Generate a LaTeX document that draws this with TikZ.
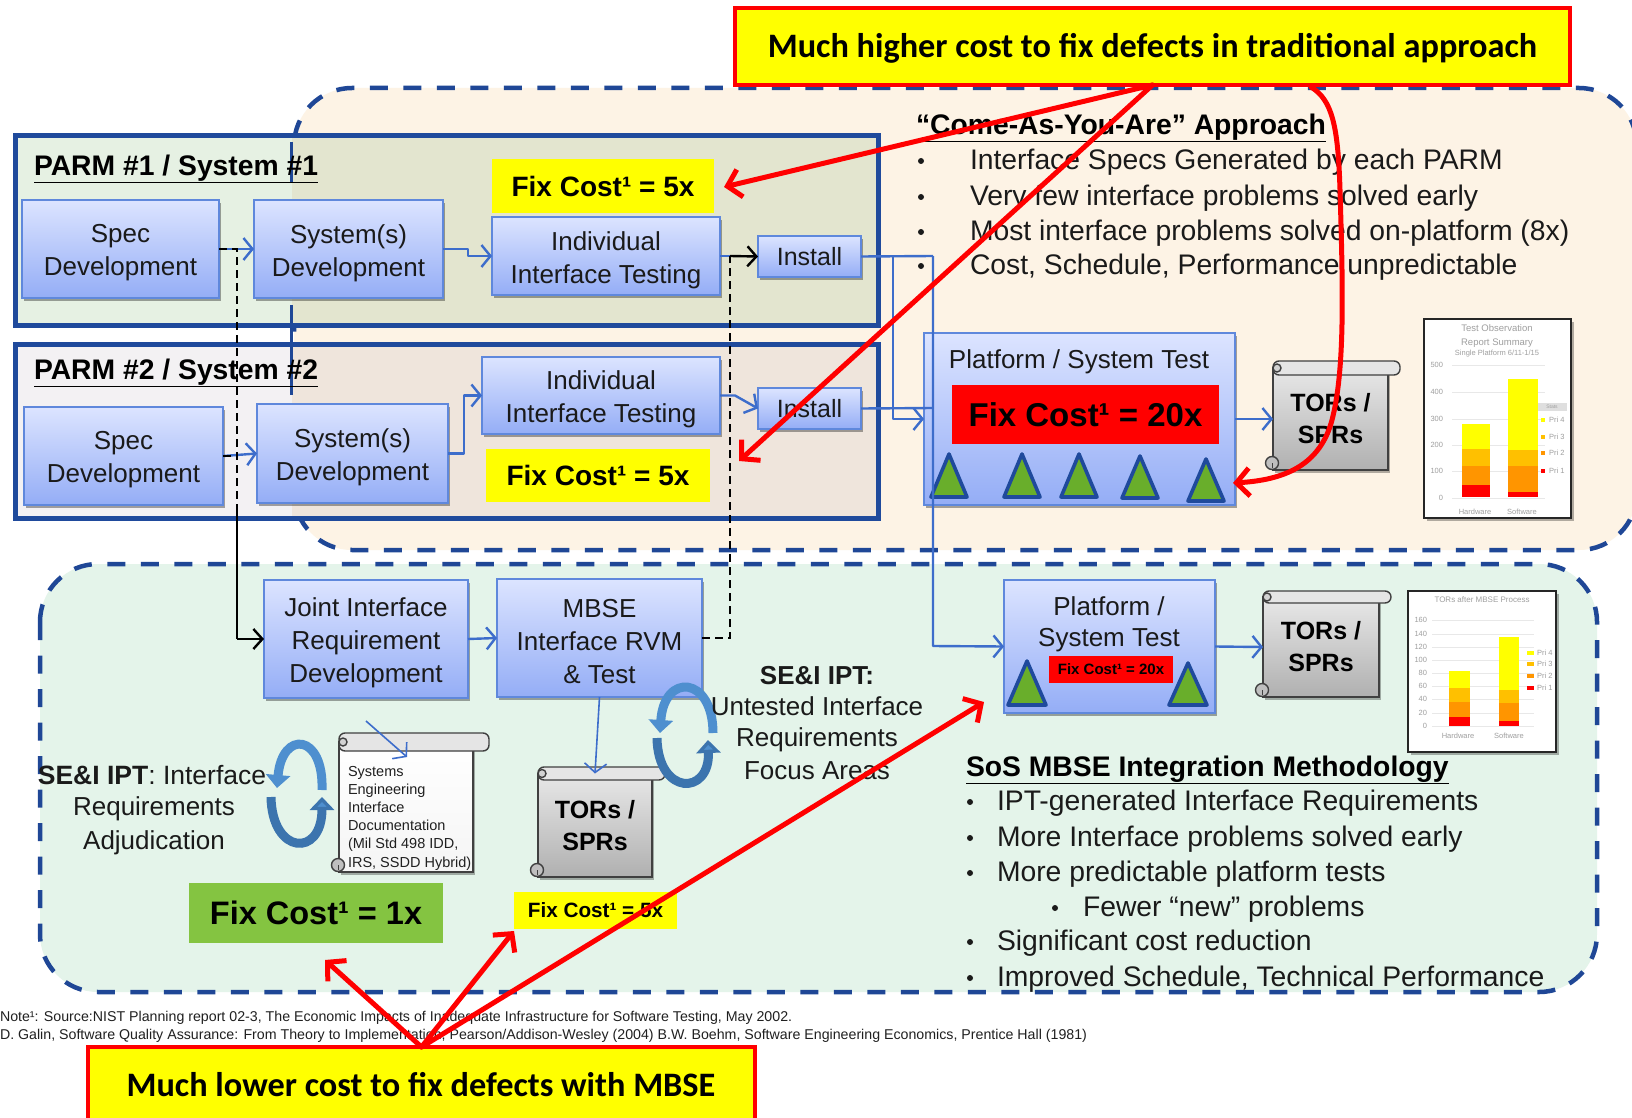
\documentclass[tikz,border=0pt]{standalone}
\usepackage{fontspec}
\setmainfont{Liberation Sans}
\newfontfamily\carl{Carlito}
\usetikzlibrary{arrows.meta,shadows,calc}
\definecolor{dashblue}{HTML}{1F4796}
\definecolor{parmblue}{HTML}{1F4A9C}
\definecolor{linkblue}{HTML}{3D6DCB}
\definecolor{boxedge}{HTML}{5F88DC}
\definecolor{boxtop}{HTML}{DCE4FF}
\definecolor{boxbot}{HTML}{94ADF6}
\definecolor{beige}{HTML}{FDF3E5}
\definecolor{mint}{HTML}{E4F4EA}
\definecolor{trigreen}{HTML}{69AE2B}
\definecolor{fixgreen}{HTML}{84C441}
\definecolor{cyc}{HTML}{4E8FCF}
\definecolor{cycdark}{HTML}{3C74AE}
\definecolor{txt}{HTML}{1A1A1A}
\definecolor{amberA}{HTML}{FFC000}
\definecolor{amberB}{HTML}{FF9500}
\definecolor{hiyellow}{RGB}{255,255,0}
\definecolor{pureRed}{RGB}{255,0,0}
\definecolor{parmAl}{RGB}{230,241,227}
\definecolor{parmAr}{RGB}{227,229,207}
\definecolor{parmBl}{RGB}{243,241,243}
\definecolor{parmBr}{RGB}{239,229,220}
\newcommand\fz[2]{\fontsize{#1}{#2}\selectfont}
\newcommand\dn[1]{\raisebox{-4pt}[\height][\depth]{#1}}
% placed box by its corners: name, x1, y1, x2, y2, style, text
\newcommand\placebox[7]{%
  \pgfmathsetmacro\bw{#4-(#2)}\pgfmathsetmacro\bh{#5-(#3)}%
  \pgfmathsetmacro\bx{(#2+#4)/2}\pgfmathsetmacro\by{(#3+#5)/2}%
  \node[#6,minimum width=\bw pt,minimum height=\bh pt] (#1) at (\bx,\by) {#7};}
\newcommand\tri[4]{% cx, apex, base, halfwidth
  \draw[tristyle] (#1,#2) -- (#1+#4,#3) -- (#1-#4,#3) -- cycle;}
% scroll: name,x1,ytop,x2,ybot,xend,rollheight,textstyle,text
\newcommand\scrollbox[9]{%
  \pgfmathsetmacro\sy{#3+#7/2}%
  \placebox{#1}{#2}{\sy}{#4}{#5}{scrollbody,#8}{#9}
  \draw[scrolledge,fill=gray!20,rounded corners=6pt] (#2,#3) rectangle (#6,#3+#7);
  \draw[scrolledge,fill=gray!35] (#2+4,#3+#7/2) circle (4);
  \draw[scrolledge,fill=gray!50] (#2-1,#5-7) circle (6.5);
  \draw[scrolledge,line width=.8] (#2-1,#5-7) -- (#2-1,#5-2);}
\tikzset{
  x=1pt,y=-1pt,
  region/.style={draw=dashblue,line width=4.5,dash pattern=on 18pt off 15.5pt,rounded corners=58pt},
  parm/.style={draw=parmblue,line width=5},
  blockbox/.style={draw=boxedge,line width=1.3,top color=boxtop,bottom color=boxbot,inner sep=0,outer sep=0,
     text=txt,align=center,font=\fz{26}{33},
     drop shadow={shadow xshift=2pt,shadow yshift=-3pt,fill=black,opacity=.35}},
  fixbox/.style={inner sep=0,outer sep=0,text=black,font=\bfseries\fz{28}{30}},
  tristyle/.style={draw=parmblue,fill=trigreen,line width=3.6,line join=round},
  scrollbody/.style={draw=gray!50!black,line width=1.4,top color=gray!18,bottom color=gray!62,inner sep=0,outer sep=0,
     text=black,align=center,font=\bfseries\fz{25}{32},
     drop shadow={shadow xshift=2pt,shadow yshift=-3pt,fill=black,opacity=.3}},
  scrolledge/.style={draw=gray!50!black,line width=1.4},
  chartbox/.style={draw=gray!30!black,line width=1.6,fill=white,inner sep=0,outer sep=0,
     drop shadow={shadow xshift=3pt,shadow yshift=-3pt,fill=black,opacity=.3}},
  link/.style={draw=linkblue,line width=2.4,line join=round},
  linkarr/.style={link,-{Straight Barb[length=9pt,width=22pt]}},
  blackdash/.style={draw=black,line width=2.4,dash pattern=on 8pt off 5pt},
  blackarr/.style={draw=black,line width=2.4,-{Straight Barb[length=9pt,width=20pt]}},
  redarr/.style={draw=pureRed,line width=5,line cap=round,line join=round,-{Straight Barb[length=13pt,width=28pt]}},
  calloutbox/.style={draw=pureRed,line width=4,fill=hiyellow,inner sep=0,outer sep=0,text=black,font=\carl\bfseries\fz{34.3}{38}},
  label/.style={inner sep=0,outer sep=0,text=txt,font=\fz{26}{33},align=center},
  listitem/.style={inner sep=0,outer sep=0,anchor=west,text=txt,font=\fz{28.3}{30}},
  heading/.style={inner sep=0,outer sep=0,anchor=west,text=black,font=\bfseries\fz{28.3}{30}},
  tick/.style={inner sep=0,outer sep=0,text=gray!75,font=\fz{7.5}{8}},
  grid/.style={draw=gray!18,line width=.7},
  cycA/.style={draw=cyc,line width=9,-{Triangle[length=13pt,width=24pt]}},
  cycB/.style={draw=cycdark,line width=9,-{Triangle[length=13pt,width=24pt,fill=cyc]}},
}
\begin{document}
\begin{tikzpicture}
\clip (0,0) rectangle (1632,1118);
\fill[white] (0,0) rectangle (1632,1118);
% regions
\draw[region,fill=beige] (294,88) rectangle (1637,550);
\draw[region,fill=mint] (40,564) rectangle (1597,992);
% PARM frames
\fill[parmAl] (14,135) rectangle (292,325);
\fill[parmAr] (292,135) rectangle (878,325);
\fill[parmBl] (14,343) rectangle (292,518);
\fill[parmBr] (292,343) rectangle (878,518);
\draw[dashblue,line width=3] (291,142) -- (291,183) (291,305) -- (291,395);
\placebox{parmA}{15}{136}{878}{325}{parm}{}
\placebox{parmB}{15}{344}{878}{518}{parm}{}
\node[heading] (parmAt) at (34,169) {\underline{PARM \#1 / System \#1}};
\node[heading] (parmBt) at (34,373) {\underline{PARM \#2 / System \#2}};
% black dashed link points
\coordinate (dashL) at (237,249);
\coordinate (dashLb) at (237,510);
\coordinate (dashLc) at (237,639);
\coordinate (dashR) at (730,638);
\coordinate (dashRt) at (730,256);
% blocks row 1
\placebox{specA}{22}{200}{219}{298}{blockbox}{\dn{Spec}\\\dn{Development}}
\placebox{sysA}{254}{200}{443}{298}{blockbox}{\dn{System(s)}\\\dn{Development}}
\placebox{iitA}{492}{217}{720}{295}{blockbox}{\dn{Individual}\\\dn{Interface Testing}}
\placebox{instA}{758}{236}{861}{277}{blockbox,font=\fz{25}{30}}{Install}
\placebox{fixA}{492}{159}{714}{213}{fixbox,fill=hiyellow}{Fix Cost¹ = 5x}
% blocks row 2
\placebox{specB}{24}{407}{223}{505}{blockbox}{\dn{Spec}\\\dn{Development}}
\placebox{sysB}{257}{404}{448}{503}{blockbox}{\dn{System(s)}\\\dn{Development}}
\placebox{iitB}{482}{357}{720}{434}{blockbox}{\dn{Individual}\\\dn{Interface Testing}}
\placebox{instB}{758}{388}{861}{429}{blockbox,font=\fz{25}{30}}{Install}
\placebox{fixB}{486}{449}{710}{502}{fixbox,fill=hiyellow}{Fix Cost¹ = 5x}
% Platform 1
\placebox{platA}{924}{333}{1235}{505}{blockbox}{}
\node[label] (platAt) at (1079,362) {Platform / System Test};
\placebox{fixC}{952}{385}{1219}{444}{fixbox,fill=pureRed,font=\bfseries\fz{33}{36}}{Fix Cost¹ = 20x}
\tri{949}{454}{497}{18}
\tri{1022}{454}{497}{18}
\tri{1079}{454}{497}{18}
\tri{1140}{456}{498}{18}
\tri{1206}{459}{501}{18}
\scrollbox{scrA}{1273}{361}{1388}{470}{1400}{14}{}{TORs /\\SPRs}
% Chart 1
\placebox{chartA}{1424}{319}{1571}{518}{chartbox}{}
\node[tick,font=\fz{9.5}{10}] (cA1) at (1497,328) {Test Observation};
\node[tick,font=\fz{9.5}{10}] (cA2) at (1497,343) {Report Summary};
\node[tick] (cA3) at (1497,354) {Single Platform 6/11-1/15};
\foreach \v/\yy in {500/365,400/392,300/419,200/445,100/471,0/498}{
  \draw[grid] (1452,\yy) -- (1545,\yy);
  \node[tick,anchor=east] (cAv\v) at (1443,\yy) {\v};}
\fill[hiyellow] (1462,424) rectangle (1490,449);
\fill[amberA] (1462,449) rectangle (1490,466);
\fill[amberB] (1462,466) rectangle (1490,485);
\fill[pureRed] (1462,485) rectangle (1490,497);
\fill[hiyellow] (1508,379) rectangle (1538,450);
\fill[amberA] (1508,450) rectangle (1538,466);
\fill[amberB] (1508,466) rectangle (1538,492);
\fill[pureRed] (1508,492) rectangle (1538,497);
\fill[gray!25] (1538,403) rectangle (1567,411);
\node[tick,font=\fz{5}{6}] (cAs) at (1552,407) {Stats};
\foreach \c/\lab/\yy in {hiyellow/4/420,amberA/3/437,amberB/2/453,pureRed/1/471}{
  \fill[\c] (1541,\yy-2) rectangle (1545,\yy+2);
  \node[tick,anchor=west] (cAl\lab) at (1549,\yy) {Pri \lab};}
\node[tick] (cAh) at (1475,512) {Hardware};
\node[tick] (cAw) at (1522,512) {Software};
% Lower blocks
\placebox{joint}{264}{580}{468}{698}{blockbox}{\dn{Joint Interface}\\\dn{Requirement}\\\dn{Development}}
\placebox{mbse}{497}{579}{702}{697}{blockbox}{\dn{MBSE}\\\dn{Interface RVM}\\\dn{\& Test}}
\placebox{platB}{1004}{580}{1215}{713}{blockbox}{}
\node[label] (platBt) at (1109,606) {Platform /};
\node[label] (platBu) at (1109,640) {System Test};
\placebox{fixD}{1049}{656}{1173}{683}{fixbox,fill=pureRed,font=\bfseries\fz{15}{17}}{Fix Cost¹ = 20x}
\tri{1027}{661}{705}{19}
\tri{1188}{663}{705}{19}
\scrollbox{scrB}{1263}{591}{1379}{697}{1391}{12}{}{TORs /\\SPRs}
% Chart 2
\placebox{chartB}{1408}{591}{1556}{752}{chartbox}{}
\node[tick,font=\fz{8}{9}] (cB0) at (1482,600) {TORs after MBSE Process};
\foreach \v/\yy in {160/620,140/634,120/647,100/660,80/673,60/686,40/699,20/713,0/726}{
  \draw[grid] (1432,\yy) -- (1534,\yy);
  \node[tick,anchor=east] (cBv\v) at (1427,\yy) {\v};}
\fill[hiyellow] (1449,671) rectangle (1470,688);
\fill[amberA] (1449,688) rectangle (1470,702);
\fill[amberB] (1449,702) rectangle (1470,717);
\fill[pureRed] (1449,717) rectangle (1470,726);
\fill[hiyellow] (1499,637) rectangle (1519,690);
\fill[amberA] (1499,690) rectangle (1519,703);
\fill[amberB] (1499,703) rectangle (1519,721);
\fill[pureRed] (1499,721) rectangle (1519,726);
\foreach \c/\lab/\yy in {hiyellow/4/653,amberA/3/664,amberB/2/676,pureRed/1/688}{
  \fill[\c] (1527,\yy-2) rectangle (1534,\yy+2);
  \node[tick,anchor=west] (cBl\lab) at (1537,\yy) {Pri \lab};}
\node[tick] (cBh) at (1458,736) {Hardware};
\node[tick] (cBw) at (1509,736) {Software};
% scrolls lower
\scrollbox{scrD}{339}{733}{473}{872}{489}{18}{top color=white,bottom color=gray!8}{}
\node[inner sep=0,outer sep=0,anchor=north west,align=left,text=gray!25!black,font=\fz{14.5}{18.2}] (docText) at (348,766)
  {Systems\\Engineering\\Interface\\Documentation\\(Mil Std 498 IDD,\\IRS, SSDD Hybrid)};
\scrollbox{scrC}{538}{767}{652}{877}{665}{13}{}{TORs /\\SPRs}
% cycles
\draw[cycA] (322,790) .. controls (324,733) and (282,730) .. (277,788);
\draw[cycB] (271,797) .. controls (272,855) and (322,858) .. (322,797);
\draw[cycA] (713,733) .. controls (713,676) and (664,672) .. (660,733);
\draw[cycB] (657,738) .. controls (658,796) and (710,796) .. (708,740);
% Labels
\node[label,font=\fz{26.5}{30}] (seiA) at (152,775) {\textbf{SE\&I IPT}: Interface};
\node[label,font=\fz{26}{30}] (seiB) at (154,809) {Requirements};
\node[label,font=\fz{26}{30}] (seiC) at (154,843) {Adjudication};
\node[label,font=\bfseries\fz{26}{30}] (seiD) at (817,676) {SE\&I IPT:};
\node[label,font=\fz{26}{30}] (seiE) at (817,706) {Untested Interface};
\node[label,font=\fz{26}{30}] (seiF) at (817,740) {Requirements};
\node[label,font=\fz{26}{30}] (seiG) at (817,771) {Focus Areas};
\placebox{fixE}{189}{883}{443}{943}{fixbox,fill=fixgreen,font=\bfseries\fz{32.5}{36}}{Fix Cost¹ = 1x}
\placebox{fixF}{514}{892}{677}{929}{fixbox,fill=hiyellow,font=\bfseries\fz{20.7}{23}}{Fix Cost¹ = 5x}
% upper list
\node[heading] (apTitle) at (916,128) {\underline{“Come-As-You-Are” Approach}};
\foreach \n/\yy/\t in {1/162/Interface Specs Generated by each PARM,2/198/Very few interface problems solved early,3/233/Most interface problems solved on-platform (8x),4/267/{Cost, Schedule, Performance unpredictable}}{
  \fill[txt] (921,\yy-1) circle (3);
  \node[listitem] (up\n) at (970,\yy) {\t};}
% lower list
\node[heading] (sosTitle) at (966,770) {\underline{SoS MBSE Integration Methodology}};
\foreach \n/\yy/\t in {1/803/IPT-generated Interface Requirements,2/839/More Interface problems solved early,3/874/More predictable platform tests,5/943/Significant cost reduction,6/979/{Improved Schedule, Technical Performance}}{
  \fill[txt] (970,\yy-1) circle (3);
  \node[listitem] (lo\n) at (997,\yy) {\t};}
\fill[txt] (1055,908) circle (3);
\node[listitem] (lo4) at (1083,909) {Fewer “new” problems};
% footnote
\node[inner sep=0,outer sep=0,anchor=west,text=gray!25!black,font=\fz{14.2}{16}] (noteA) at (0,1018) {Note¹: Source:NIST Planning report 02-3, The Economic Impacts of Inadequate Infrastructure for Software Testing, May 2002.};
\node[inner sep=0,outer sep=0,anchor=west,text=gray!25!black,font=\fz{14.2}{16}] (noteB) at (0,1036) {D. Galin, Software Quality Assurance: From Theory to Implementation, Pearson/Addison-Wesley (2004) B.W. Boehm, Software Engineering Economics, Prentice Hall (1981)};
% blue links
\coordinate (jA) at (933,256);
\coordinate (jB) at (933,646);
\coordinate (jC) at (893,256);
\coordinate (jD) at (893,419);
\coordinate (jE) at (933,408);
\draw[linkarr] (specA.east) -- (sysA.west);
\draw[linkarr] (sysA.east) -- ++(25,0) |- (iitA.west);
\draw[linkarr] (specB.east) -- (sysB.west);
\draw[linkarr] (sysB.east) -- ++(16,0) |- (iitB.west);
\draw[linkarr] (iitB.east) -- ++(15,0) -- (instB.west);
\draw[link] (iitA.east) -- ++(10,0);
\draw[link] (instA.east) -- (jA);
\draw[linkarr] (jA) -- (jB) -- (platB.west);
\draw[linkarr] (jC) -- (jD) -- (platA.west);
\draw[link] (instB.east) -- (jE);
\draw[linkarr] (platA.east) -- (scrA.west);
\draw[linkarr] (platB.east) -- (scrB.west);
\draw[linkarr] (joint.east) -- (mbse.west);
\draw[linkarr,line width=1.6] (mbse.south) -- (scrC.north);
\coordinate (docFrom) at (366,721);
\coordinate (docTo) at (407,757);
\draw[linkarr,line width=1.6] (docFrom) -- (docTo);
% black links
\draw[blackdash] (specA.east) -- (dashL) -- (dashLb);
\draw[blackdash] (specB.east) -- (dashL |- specB.east);
\draw[draw=black,line width=2.2] (dashLb) -- (dashLc);
\draw[blackarr] (dashLc) -- (joint.west);
\draw[blackdash] (mbse.east) -- (dashR) -- (dashRt);
\draw[blackarr] (dashRt) -- (instA.west);
% callouts
\placebox{topbox}{735}{8}{1570}{85}{calloutbox}{\raisebox{-2pt}[\height][\depth]{Much higher cost to fix defects in traditional approach}}
\placebox{lowbox}{88}{1047}{755}{1135}{calloutbox}{}
\node[inner sep=0,outer sep=0,text=black,font=\carl\bfseries\fz{34.3}{38}] (lowtext) at (421,1085) {Much lower cost to fix defects with MBSE};
% red arrows
\coordinate (tipA) at (724,187);
\coordinate (tipB) at (739,461);
\coordinate (tipC) at (1233,483);
\coordinate (curveStart) at (1311,87);
\coordinate (tipE) at (325,960);
\coordinate (tipF) at (514,931);
\coordinate (tipD) at (984,702);
\draw[redarr] (topbox.south) -- (tipA);
\draw[redarr] (topbox.south) -- (tipB);
\draw[redarr] (curveStart) .. controls (1332,100) and (1338,125) .. (1340,190)
  .. controls (1343,290) and (1345,370) .. (1332,420)
  .. controls (1320,465) and (1285,480) .. (tipC);
\draw[redarr] (lowbox.north) -- (tipE);
\draw[redarr] (lowbox.north) -- (tipF);
\draw[redarr] (lowbox.north) -- (tipD);
\end{tikzpicture}
\end{document}
